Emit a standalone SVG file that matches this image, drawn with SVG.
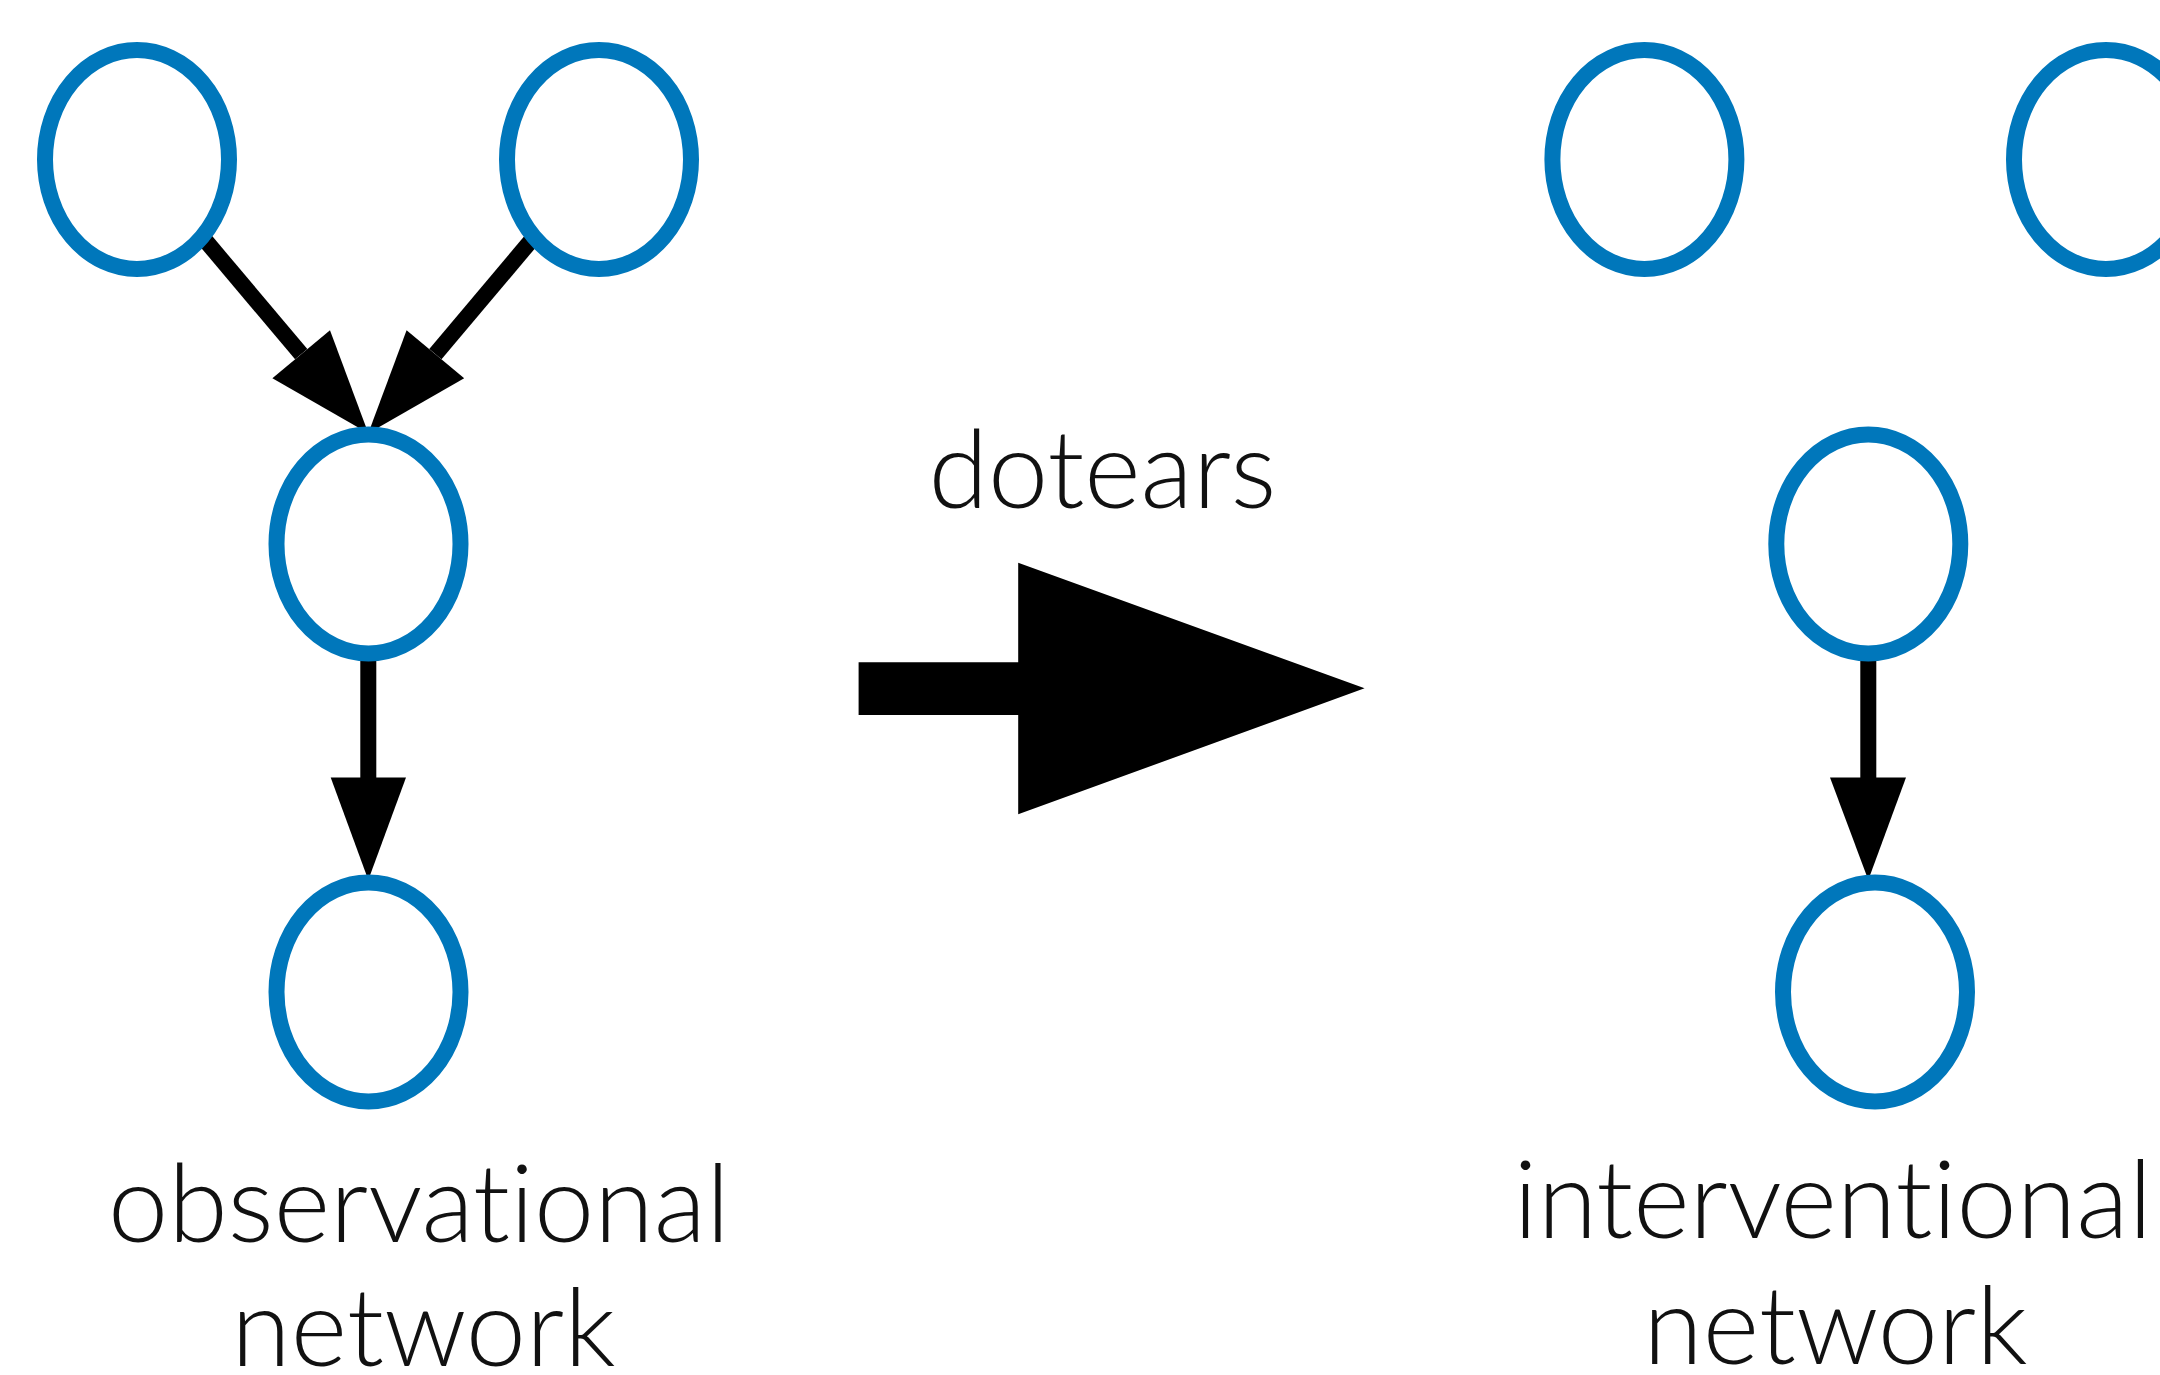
<svg xmlns="http://www.w3.org/2000/svg" width="2160" height="1375" viewBox="0 0 2160 1375">
  <style>
    .node { fill: #ffffff; stroke: #0077BB; stroke-width: 16; }
    .edge { stroke: #000000; stroke-width: 16; fill: none; }
    .head { fill: #000000; stroke: none; }
    .label { font-family: "Lato", "Open Sans", "Liberation Sans", sans-serif; font-size: 108px; font-weight: 300; fill: #111111; text-anchor: middle; font-variant-ligatures: none; font-feature-settings: "liga" 0, "clig" 0; }
  </style>
  <rect x="0" y="0" width="2160" height="1375" fill="#ffffff"/>

  <!-- connectors -->
  <g id="connectors">
    <!-- observational graph -->
    <line class="edge" x1="202.5" y1="237" x2="301.2" y2="354.2"/>
    <polygon class="head" points="272.4,378.2 330,330.2 368.3,433.3"/>
    <line class="edge" x1="534.1" y1="237" x2="435.4" y2="354.2"/>
    <polygon class="head" points="464.2,378.2 406.6,330.2 368.3,433.3"/>
    <line class="edge" x1="368.3" y1="654" x2="368.3" y2="778.5"/>
    <polygon class="head" points="330.7,777.5 406,777.5 368.3,880"/>
    <!-- interventional graph -->
    <line class="edge" x1="1868.3" y1="654" x2="1868.3" y2="778.5"/>
    <polygon class="head" points="1830,777.5 1906,777.5 1868.3,880"/>
    <!-- transformation arrow -->
    <polygon id="dotears-arrow" class="head" points="858.6,662.3 1018.2,662.3 1018.2,562.7 1364.6,688.3 1018.2,814.3 1018.2,715 858.6,715"/>
  </g>

  <!-- observational network nodes -->
  <g id="obs-a"><ellipse class="node" cx="137" cy="159.5" rx="92" ry="109.5"/></g>
  <g id="obs-b"><ellipse class="node" cx="599" cy="159.5" rx="92" ry="109.5"/></g>
  <g id="obs-c"><ellipse class="node" cx="368.5" cy="544" rx="92" ry="109.5"/></g>
  <g id="obs-d"><ellipse class="node" cx="368.5" cy="992" rx="92" ry="109.5"/></g>

  <!-- interventional network nodes -->
  <g id="int-a"><ellipse class="node" cx="1644.4" cy="159.5" rx="92" ry="109.5"/></g>
  <g id="int-b"><ellipse class="node" cx="2106" cy="159.5" rx="92" ry="109.5"/></g>
  <g id="int-c"><ellipse class="node" cx="1868.3" cy="544" rx="92" ry="109.5"/></g>
  <g id="int-d"><ellipse class="node" cx="1875" cy="992" rx="92" ry="109.5"/></g>

  <!-- labels -->
  <g id="labels">
    <text class="label" x="1102.5" y="508">dotears</text>
    <text class="label" x="419" y="1242">observational</text>
    <text class="label" x="423.5" y="1366">network</text>
    <text class="label" x="1833" y="1238">interventional</text>
    <text class="label" x="1835.5" y="1364">network</text>
  </g>
</svg>
